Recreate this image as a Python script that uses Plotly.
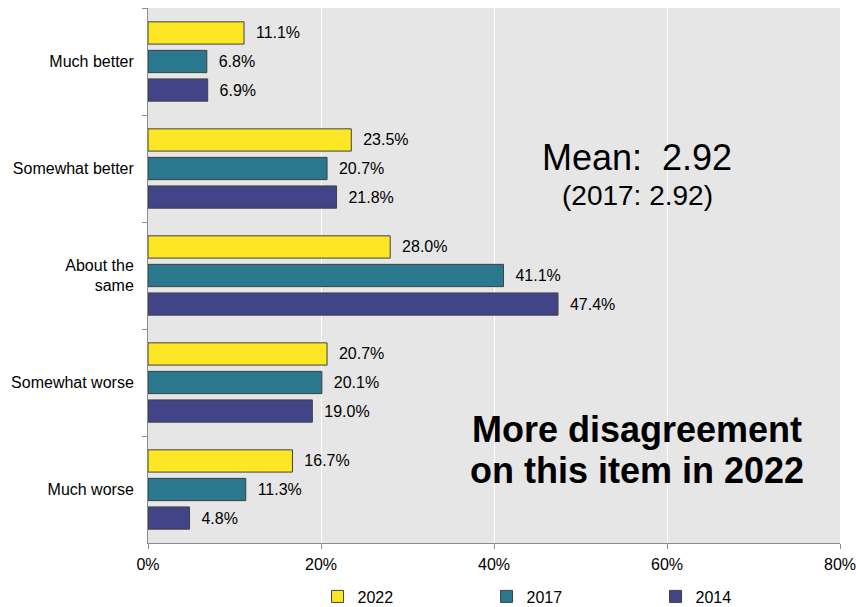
import plotly.graph_objects as go

categories = ["Much better", "Somewhat better", "About the<br>same", "Somewhat worse", "Much worse"]
years = ["2022", "2017", "2014"]
values_2022 = [11.1, 23.5, 28.0, 20.7, 16.7]
values_2017 = [6.8, 20.7, 41.1, 20.1, 11.3]
values_2014 = [6.9, 21.8, 47.4, 19.0, 4.8]
x_ticks = [0, 20, 40, 60, 80]
x_tick_labels = [f"{v}%" for v in x_ticks]

colors = {"2022": "#FDE725", "2017": "#2A788E", "2014": "#414487"}
series = {"2022": values_2022, "2017": values_2017, "2014": values_2014}

FONT = "Liberation Sans, Arial, sans-serif"

fig = go.Figure()
for yr in years:
    fig.add_trace(go.Bar(
        y=categories,
        x=series[yr],
        name=yr,
        orientation="h",
        marker=dict(color=colors[yr], line=dict(color="#404040", width=1)),
        texttemplate="\u00a0\u00a0%{x:.1f}%",
        textposition="outside",
        constraintext="none",
        cliponaxis=False,
        textfont=dict(size=16, color="#000000", family=FONT),
    ))

fig.update_layout(
    width=856,
    height=607,
    margin=dict(l=148, r=16, t=8, b=64, autoexpand=False),
    paper_bgcolor="white",
    plot_bgcolor="#e6e6e6",
    barmode="group",
    bargap=0.2,
    bargroupgap=0.22,
    font=dict(family=FONT, size=16, color="#000000"),
    showlegend=True,
    legend=dict(
        orientation="h",
        x=0.245, xanchor="left",
        y=-0.10, yanchor="middle",
        entrywidth=124, entrywidthmode="pixels",
        itemwidth=30,
        font=dict(size=16, family=FONT),
        bgcolor="rgba(0,0,0,0)",
        traceorder="normal",
    ),
    xaxis=dict(
        range=[0, 80],
        tickmode="array",
        tickvals=x_ticks,
        ticktext=x_tick_labels,
        showgrid=True,
        gridcolor="white",
        gridwidth=1,
        zeroline=False,
        showline=True,
        linecolor="#8c8c8c",
        linewidth=1,
        ticks="outside",
        ticklen=5,
        tickcolor="#8c8c8c",
        ticklabelstandoff=2,
        ticklabeloverflow="allow",
        tickfont=dict(size=16, family=FONT),
    ),
    yaxis=dict(
        autorange="reversed",
        showgrid=False,
        zeroline=False,
        showline=True,
        linecolor="#8c8c8c",
        linewidth=1,
        ticks="outside",
        tickson="boundaries",
        ticklen=5,
        tickcolor="#8c8c8c",
        ticklabelstandoff=10,
        tickfont=dict(size=16, family=FONT),
    ),
)

notes = [
    ("Mean:  2.92", 0.72, 36, False),
    ("(2017: 2.92)", 0.65, 28, False),
    ("More disagreement", 0.213, 36, True),
    ("on this item in 2022", 0.136, 36, True),
]
for text, ypos, size, bold in notes:
    fig.add_annotation(
        text=f"<b>{text}</b>" if bold else text,
        xref="paper", yref="paper", x=0.707, y=ypos,
        xanchor="center", yanchor="middle",
        showarrow=False, font=dict(size=size, family=FONT, color="#000000"),
    )

fig.write_html("out.html")
